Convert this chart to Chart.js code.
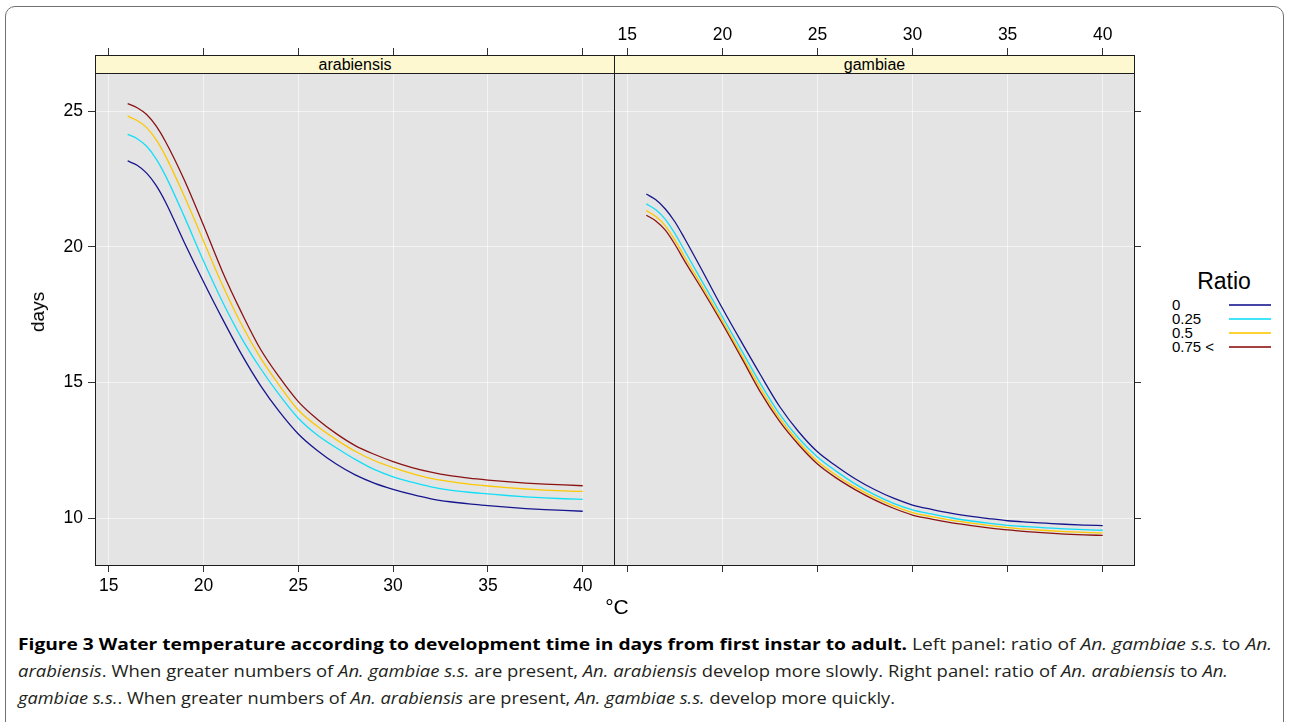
<!DOCTYPE html>
<html>
<head>
<meta charset="utf-8">
<script src="https://cdn.jsdelivr.net/npm/chart.js@4.4.1/dist/chart.umd.min.js"></script>
<style>
  body { margin: 0; background: #fff; width: 1289px; height: 722px; overflow: hidden; position: relative;
         font-family: "Liberation Sans", Arial, sans-serif; color: #000; }
  .abs { position: absolute; }
  #frame { left: 5px; top: 6px; width: 1279px; height: 760px; border: 1.5px solid #707070; border-radius: 10px; box-sizing: border-box; }
  canvas { position: absolute; top: 0; }
  .panel { position: absolute; top: 55px; height: 511px; border: 1px solid #1c1c1c; box-sizing: border-box; pointer-events: none; }
  .strip { position: absolute; left: 0; right: 0; top: 0; height: 18px; background: #fef8d0; border-bottom: 1px solid #1c1c1c;
           font-size: 16px; line-height: 18px; text-align: center; box-sizing: border-box; }
  .leg { position: absolute; left: 1172px; font-size: 15px; line-height: 14px; }
  .legline { position: absolute; left: 1229px; width: 42px; height: 2px; opacity: 0.8; }
  .cap { position: absolute; left: 18px; white-space: nowrap; font-family: "Open Sans", sans-serif; font-size: 16px;
         line-height: 20px; color: #231f20; transform-origin: left center; }
  .cap b { color: #000; }
</style>
</head>
<body>
<div id="frame" class="abs"></div>
<canvas id="left" width="614" height="620" style="left:0px"></canvas>
<canvas id="right" width="545" height="620" style="left:605px"></canvas>

<div class="panel" style="left:95px; width:520px;"><div class="strip">arabiensis</div></div>
<div class="panel" style="left:614px; width:521px;"><div class="strip">gambiae</div></div>

<div class="abs" style="left:38px; top:312px; font-size:19px; transform:translate(-50%,-50%) rotate(-90deg);">days</div>
<div class="abs" style="left:617px; top:607px; font-size:21px; transform:translate(-50%,-50%);">°C</div>

<div class="abs" style="left:1180px; top:268px; width:88px; text-align:center; font-size:23px; line-height:26px;">Ratio</div>
<div id="legend"></div>

<div class="cap" data-w="1254" style="top:634px"><b>Figure 3 Water temperature according to development time in days from first instar to adult.</b> Left panel: ratio of <i>An. gambiae s.s.</i> to <i>An.</i></div>
<div class="cap" data-w="1210" style="top:661px"><i>arabiensis</i>. When greater numbers of <i>An. gambiae s.s.</i> are present, <i>An. arabiensis</i> develop more slowly. Right panel: ratio of <i>An. arabiensis</i> to <i>An.</i></div>
<div class="cap" data-w="877" style="top:688px"><i>gambiae s.s.</i>. When greater numbers of <i>An. arabiensis</i> are present, <i>An. gambiae s.s.</i> develop more quickly.</div>

<script>
// water temperature (°C)
const temps = [16, 16.5, 17, 17.5, 18, 19, 20, 21, 22, 23, 24, 25, 26, 27, 28, 29, 30, 31, 32, 33, 34, 35, 36, 37, 38, 39, 40];

// ratio labels
const ratios = ['0', '0.25', '0.5', '0.75 <'];
const ratioColors = ['#16168e', '#12def8', '#fcc800', '#8c1212'];

// development time (days), arabiensis panel
const arab0   = [23.17, 23.01, 22.72, 22.27, 21.65, 20.15, 18.72, 17.35, 16.05, 14.90, 13.93, 13.11, 12.50, 12.00, 11.60, 11.30, 11.07, 10.88, 10.72, 10.61, 10.53, 10.47, 10.41, 10.36, 10.32, 10.29, 10.26];
const arab25  = [24.15, 23.99, 23.71, 23.25, 22.62, 21.10, 19.48, 17.98, 16.65, 15.53, 14.55, 13.69, 13.07, 12.60, 12.17, 11.80, 11.53, 11.33, 11.16, 11.04, 10.96, 10.90, 10.84, 10.79, 10.75, 10.72, 10.70];
const arab50  = [24.82, 24.66, 24.40, 23.96, 23.35, 21.85, 20.22, 18.60, 17.15, 15.92, 14.90, 13.99, 13.39, 12.90, 12.47, 12.13, 11.87, 11.65, 11.47, 11.35, 11.26, 11.19, 11.13, 11.08, 11.04, 11.01, 10.99];
const arab75  = [25.28, 25.13, 24.88, 24.46, 23.88, 22.45, 20.80, 19.09, 17.59, 16.24, 15.20, 14.30, 13.65, 13.12, 12.68, 12.36, 12.09, 11.87, 11.70, 11.57, 11.48, 11.41, 11.35, 11.30, 11.26, 11.23, 11.20];

// development time (days), gambiae panel
const gamb0   = [21.95, 21.74, 21.40, 20.93, 20.33, 19.05, 17.74, 16.50, 15.29, 14.13, 13.20, 12.45, 11.92, 11.45, 11.06, 10.74, 10.49, 10.33, 10.19, 10.08, 9.99, 9.91, 9.86, 9.82, 9.78, 9.75, 9.73];
const gamb25  = [21.59, 21.37, 21.02, 20.50, 19.88, 18.65, 17.43, 16.20, 14.97, 13.85, 12.96, 12.26, 11.73, 11.26, 10.87, 10.55, 10.31, 10.16, 10.02, 9.91, 9.82, 9.74, 9.69, 9.65, 9.61, 9.58, 9.56];
const gamb50  = [21.34, 21.12, 20.78, 20.26, 19.65, 18.48, 17.28, 16.03, 14.80, 13.70, 12.82, 12.10, 11.58, 11.14, 10.77, 10.46, 10.21, 10.06, 9.93, 9.83, 9.74, 9.66, 9.60, 9.55, 9.51, 9.48, 9.46];
const gamb75  = [21.17, 20.96, 20.62, 20.10, 19.50, 18.36, 17.17, 15.92, 14.65, 13.58, 12.72, 12.00, 11.48, 11.05, 10.68, 10.37, 10.12, 9.97, 9.84, 9.74, 9.65, 9.57, 9.51, 9.46, 9.42, 9.39, 9.37];

// tick labels
const xTicks = [15, 20, 25, 30, 35, 40];
const yTicks = [10, 15, 20, 25];

Chart.defaults.font.family = '"Liberation Sans", Arial, sans-serif';
Chart.defaults.color = '#000';

const tickFont = { size: 17.5 };
const gridCol = 'rgba(255,255,255,0.55)';

// grey panel background
const panelBg = {
  id: 'panelBg',
  beforeDraw(chart) {
    const { ctx, chartArea: a } = chart;
    ctx.save();
    ctx.fillStyle = '#e4e4e4';
    ctx.fillRect(a.left, a.top, a.right - a.left, a.bottom - a.top);
    ctx.restore();
  }
};

function makeSets(series) {
  return series.map((vals, i) => ({
    label: ratios[i],
    data: temps.map((t, k) => ({ x: t, y: vals[k] })),
    borderColor: ratioColors[i],
    borderWidth: 1.3,
    pointRadius: 0,
    cubicInterpolationMode: 'monotone',
    order: series.length - i
  }));
}

function xAxis(pos, showLabels, min, max, drawGrid) {
  return {
    type: 'linear', position: pos, min: min, max: max,
    afterBuildTicks: s => { s.ticks = xTicks.map(v => ({ value: v })); },
    afterFit: s => { s.height = pos === 'top' ? 73 : 55; },
    grid: { color: gridCol, tickColor: '#333', lineWidth: 1, tickLength: pos === 'top' ? 25 : 7, drawOnChartArea: drawGrid },
    border: { display: false },
    ticks: { display: showLabels, font: tickFont, padding: pos === 'top' ? 2 : 4, maxRotation: 0 }
  };
}

function yAxis(pos, showLabels, width) {
  return {
    type: 'linear', position: pos, min: 8.279, max: 26.412,
    afterBuildTicks: s => { s.ticks = yTicks.map(v => ({ value: v })); },
    afterFit: s => { s.width = width; },
    grid: { color: gridCol, tickColor: '#333', lineWidth: 1, tickLength: 7 },
    border: { display: false },
    ticks: { display: showLabels, font: tickFont, padding: 5 }
  };
}

function makePanel(id, series, xMin, xMax, leftSide) {
  const scales = {
    x: xAxis('bottom', leftSide, xMin, xMax, true),
    xTop: xAxis('top', !leftSide, xMin, xMax, false),
    y: leftSide ? yAxis('left', true, 95) : yAxis('right', false, 16)
  };
  return new Chart(document.getElementById(id), {
    type: 'line',
    data: { datasets: makeSets(series) },
    options: {
      responsive: false,
      animation: false,
      layout: { padding: { left: leftSide ? 0 : 10, right: 0, top: 0, bottom: 0 } },
      plugins: { legend: { display: false }, tooltip: { enabled: false } },
      scales: scales
    },
    plugins: [panelBg]
  });
}

makePanel('left', [arab0, arab25, arab50, arab75], 14.277, 41.651, true);
makePanel('right', [gamb0, gamb25, gamb50, gamb75], 14.353, 41.646, false);

// legend on the right
const legTop = [305, 319, 333, 347];
const legend = document.getElementById('legend');
ratios.forEach((r, i) => {
  const t = document.createElement('div');
  t.className = 'leg';
  t.style.top = (legTop[i] - 7) + 'px';
  t.textContent = r;
  legend.appendChild(t);
  const l = document.createElement('div');
  l.className = 'legline';
  l.style.top = (legTop[i] - 1) + 'px';
  l.style.backgroundColor = ratioColors[i];
  legend.appendChild(l);
});

// squeeze caption lines to the widths in the figure
document.querySelectorAll('.cap').forEach(el => {
  const w = el.getBoundingClientRect().width;
  el.style.transform = 'scaleX(' + (el.dataset.w / w) + ')';
});
</script>
</body>
</html>
